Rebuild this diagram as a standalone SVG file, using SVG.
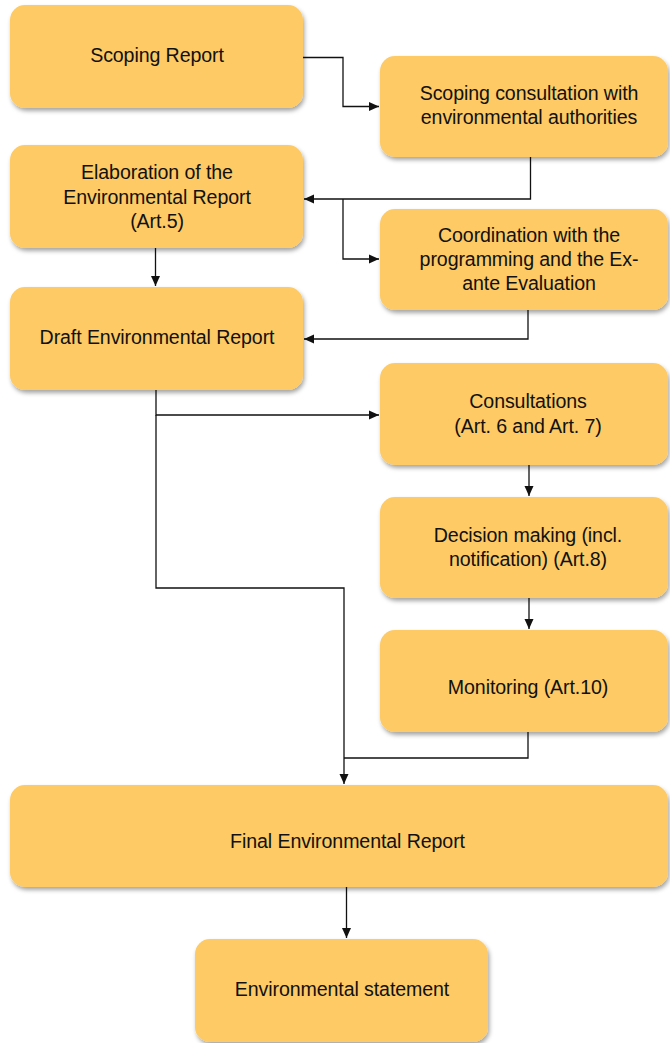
<svg xmlns="http://www.w3.org/2000/svg" width="670" height="1043" viewBox="0 0 670 1043">
<style>
.box{fill:#FDCA65;filter:url(#sh)}
.t{font-family:"Liberation Sans",Arial,sans-serif;font-size:19.6px;fill:#111;text-anchor:middle;letter-spacing:-0.1px}
.c{fill:none;stroke:#111;stroke-width:1.3}
</style>
<defs>
<filter id="sh" x="-10%" y="-10%" width="130%" height="140%">
<feDropShadow dx="1.5" dy="3" stdDeviation="2" flood-color="#000" flood-opacity="0.35"/>
</filter>
<marker id="a" viewBox="0 0 10 10" refX="10" refY="5" markerWidth="10" markerHeight="10" markerUnits="userSpaceOnUse" orient="auto">
<path d="M0,0.5 L10,5 L0,9.5 z" fill="#111"/>
</marker>
</defs>
<g id="connectors">
<path class="c" d="M303,57.5 H343 V106.5 H379" marker-end="url(#a)"/>
<path class="c" d="M530.5,157 V199 H304" marker-end="url(#a)"/>
<path class="c" d="M343,199 V259 H379" marker-end="url(#a)"/>
<path class="c" d="M155.5,248 V286" marker-end="url(#a)"/>
<path class="c" d="M528,310 V339 H304" marker-end="url(#a)"/>
<path class="c" d="M156,390 V415 H379" marker-end="url(#a)"/>
<path class="c" d="M156,415 V588 H344 V784" marker-end="url(#a)"/>
<path class="c" d="M529,465 V496" marker-end="url(#a)"/>
<path class="c" d="M529,598 V629" marker-end="url(#a)"/>
<path class="c" d="M528,732 V758 H344"/>
<path class="c" d="M346.5,887 V938" marker-end="url(#a)"/>
</g>
<g id="n1"><rect class="box" x="10" y="5" width="293" height="103" rx="15"/><text class="t" x="157" y="62">Scoping Report</text></g>
<g id="n2"><rect class="box" x="380" y="56" width="288" height="101" rx="15"/><text class="t" x="529" y="100">Scoping consultation  with</text><text class="t" x="529" y="124">environmental authorities</text></g>
<g id="n3"><rect class="box" x="10" y="145" width="293" height="103" rx="15"/><text class="t" x="157" y="179">Elaboration of the</text><text class="t" x="157" y="204">Environmental Report</text><text class="t" x="157" y="228">(Art.5)</text></g>
<g id="n4"><rect class="box" x="380" y="209" width="288" height="101" rx="15"/><text class="t" x="529" y="242">Coordination with the</text><text class="t" x="529" y="266">programming and the Ex-</text><text class="t" x="529" y="290">ante Evaluation</text></g>
<g id="n5"><rect class="box" x="10" y="287" width="293" height="103" rx="15"/><text class="t" x="157" y="344">Draft Environmental Report</text></g>
<g id="n6"><rect class="box" x="380" y="363" width="288" height="102" rx="15"/><text class="t" x="528" y="408">Consultations</text><text class="t" x="528" y="433">(Art. 6 and Art. 7)</text></g>
<g id="n7"><rect class="box" x="380" y="497" width="288" height="101" rx="15"/><text class="t" x="528" y="542">Decision making (incl.</text><text class="t" x="528" y="566">notification) (Art.8)</text></g>
<g id="n8"><rect class="box" x="380" y="630" width="288" height="102" rx="15"/><text class="t" x="528" y="694">Monitoring (Art.10)</text></g>
<g id="n9"><rect class="box" x="10" y="785" width="658" height="102" rx="15"/><text class="t" x="347.5" y="848">Final Environmental Report</text></g>
<g id="n10"><rect class="box" x="195" y="939" width="293" height="103" rx="15"/><text class="t" x="342" y="996">Environmental statement</text></g>
</svg>
